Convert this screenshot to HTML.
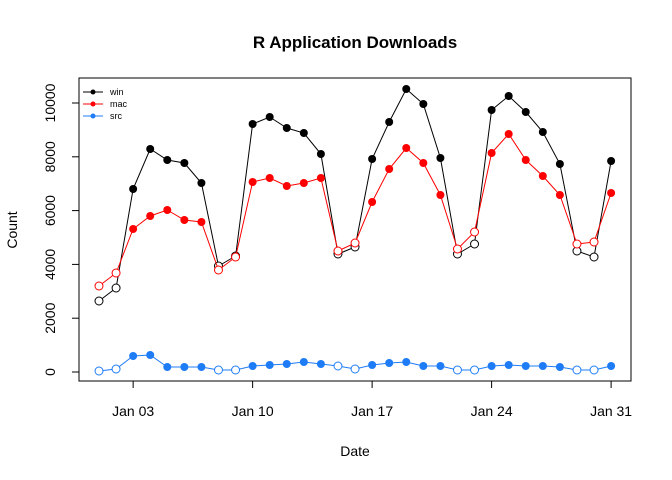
<!DOCTYPE html>
<html><head><meta charset="utf-8"><style>body{margin:0;background:#fff}svg{display:block}</style></head>
<body>
<svg id="s" width="672" height="480" xmlns="http://www.w3.org/2000/svg" font-family="Liberation Sans, Arial, sans-serif">
<rect width="672" height="480" fill="#fff"/>
<text x="355" y="48" text-anchor="middle" font-size="17" font-weight="bold">R Application Downloads</text>
<text x="355" y="456" text-anchor="middle" font-size="14">Date</text>
<text transform="translate(17,230) rotate(-90)" text-anchor="middle" font-size="14">Count</text>
<rect x="79" y="78" width="552" height="303" fill="none" stroke="#000" stroke-width="1"/>
<g id="g"></g>
<g font-size="9">
<line x1="83" y1="92" x2="103" y2="92" stroke="#000"/><circle cx="93" cy="92" r="2.5" fill="#000"/><text x="110" y="95">win</text>
<line x1="83" y1="104" x2="103" y2="104" stroke="#f00"/><circle cx="93" cy="104" r="2.5" fill="#f00"/><text x="110" y="107">mac</text>
<line x1="83" y1="116" x2="103" y2="116" stroke="#1e7cf7"/><circle cx="93" cy="116" r="2.5" fill="#1e7cf7"/><text x="110" y="119">src</text>
</g>
</svg>
<script>
var g=document.getElementById('g'),h='';
function X(d){return 99+(d-1)*17.07;}
var ser=[
['#000',[301,288,189,149,160,163,183,266,256,124,117,128,133,154,254,247,159,122,89,104,158,254,244,110,96,112,132,164,251,257,161]],
['#f00',[286,273,229,216,210,220,222,270,257,182,178,186,183,178,251,243,202,169,148,163,195,249,232,153,134,160,176,195,244,242,193]],
['#1e7cf7',[371,369,356,355,367,367,367,370,370,366,365,364,362,364,366,369,365,363,362,366,366,370,370,366,365,366,366,367,370,370,366]]];
var open={1:1,2:1,8:1,9:1,15:1,16:1,22:1,23:1,29:1,30:1};
ser.forEach(function(s){var p=s[1].map(function(y,i){return X(i+1).toFixed(1)+','+y;}).join(' ');
h+='<polyline points="'+p+'" fill="none" stroke="'+s[0]+'" stroke-width="1"/>';
s[1].forEach(function(y,i){var d=i+1;
h+=open[d]?'<circle cx="'+X(d)+'" cy="'+y+'" r="4" fill="#fff" stroke="'+s[0]+'" stroke-width="1"/>':'<circle cx="'+X(d)+'" cy="'+y+'" r="4" fill="'+s[0]+'"/>';});});
[[3,'Jan 03'],[10,'Jan 10'],[17,'Jan 17'],[24,'Jan 24'],[31,'Jan 31']].forEach(function(t){var x=X(t[0]);
h+='<line x1="'+x+'" y1="381" x2="'+x+'" y2="388" stroke="#000"/><text x="'+x+'" y="416" text-anchor="middle" font-size="14">'+t[1]+'</text>';});
for(var v=0;v<=10000;v+=2000){var y=372-v*0.0269;
h+='<line x1="72" y1="'+y+'" x2="79" y2="'+y+'" stroke="#000"/><text transform="translate(55,'+y+') rotate(-90)" text-anchor="middle" font-size="14">'+v+'</text>';}
g.innerHTML=h;
</script>
</body></html>
